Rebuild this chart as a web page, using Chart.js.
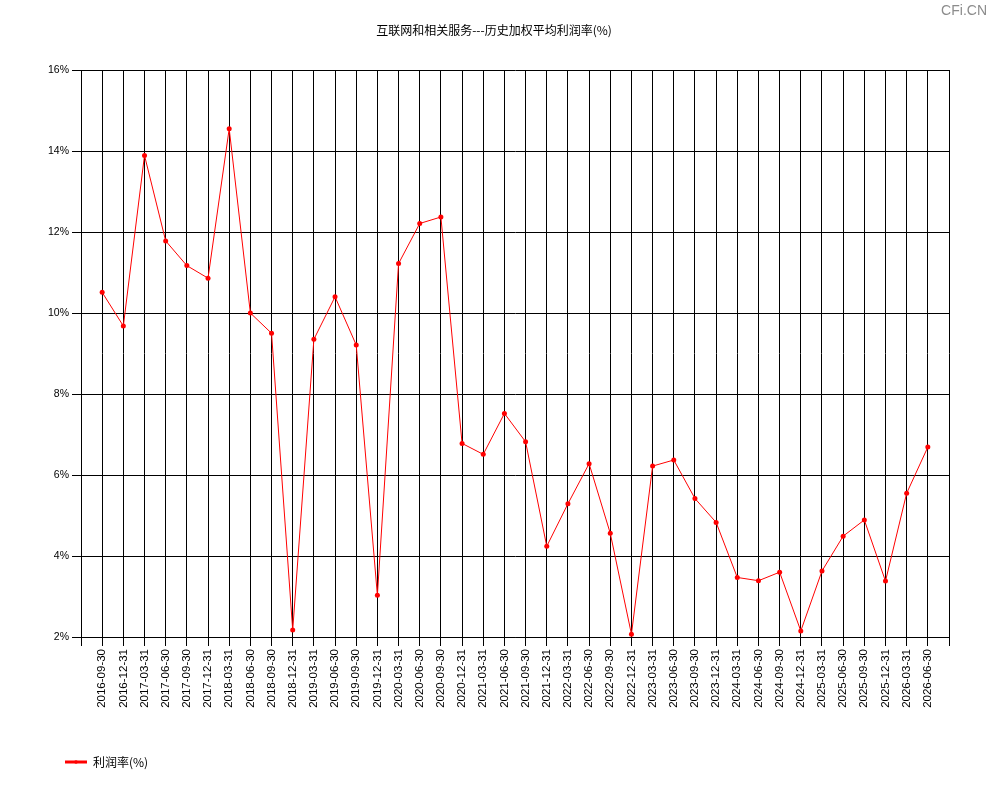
<!DOCTYPE html>
<html lang="zh-CN">
<head>
<meta charset="utf-8">
<title>互联网和相关服务---历史加权平均利润率(%)</title>
<script src="https://cdn.jsdelivr.net/npm/chart.js@4.4.1/dist/chart.umd.min.js"></script>
<style>
    html, body { margin: 0; padding: 0; background: #fff; }
    #chartBox { width: 990px; height: 800px; }
</style>
</head>
<body>
<div id="chartBox"><canvas id="profitChart" width="990" height="800"></canvas></div>
<script>
// quarter-end dates on the x axis
const quarters = [
    '2016-09-30', '2016-12-31', '2017-03-31', '2017-06-30', '2017-09-30', '2017-12-31',
    '2018-03-31', '2018-06-30', '2018-09-30', '2018-12-31', '2019-03-31', '2019-06-30',
    '2019-09-30', '2019-12-31', '2020-03-31', '2020-06-30', '2020-09-30', '2020-12-31',
    '2021-03-31', '2021-06-30', '2021-09-30', '2021-12-31', '2022-03-31', '2022-06-30',
    '2022-09-30', '2022-12-31', '2023-03-31', '2023-06-30', '2023-09-30', '2023-12-31',
    '2024-03-31', '2024-06-30', '2024-09-30', '2024-12-31', '2025-03-31', '2025-06-30',
    '2025-09-30', '2025-12-31', '2026-03-31', '2026-06-30'
];

// weighted average profit rate, %
const profitRate = [
    10.51, 9.68, 13.89, 11.78, 11.17, 10.86,
    14.55, 10.00, 9.50, 2.17, 9.35, 10.40,
    9.21, 3.03, 11.22, 12.21, 12.37, 6.78,
    6.51, 7.52, 6.82, 4.24, 5.29, 6.28,
    4.56, 2.07, 6.22, 6.37, 5.42, 4.83,
    3.47, 3.39, 3.60, 2.15, 3.63, 4.49,
    4.89, 3.38, 5.55, 6.69
];

const yMin = 2;
const yMax = 16;
const yStep = 2;

const chartTitle = '互联网和相关服务---历史加权平均利润率(%)';
const seriesName = '利润率(%)';

const cjkFont = '"Noto Sans CJK SC", "Noto Sans", sans-serif';
const tickFont = '"Liberation Sans", Arial, sans-serif';

const legendLeft = 55;

// title centred on the whole canvas, legend a bit in from the left, CFi.CN mark in the corner
const extras = {
    id: 'extras',
    afterLayout(chart) {
        if (chart.legend) chart.legend.left = legendLeft;
        if (chart.titleBlock) {
            chart.titleBlock.left = 0;
            chart.titleBlock.right = 988;
        }
    },
    afterDraw(chart) {
        const ctx = chart.ctx;
        ctx.save();
        ctx.font = '14px ' + tickFont;
        ctx.fillStyle = '#8c8c8c';
        ctx.textAlign = 'right';
        ctx.textBaseline = 'top';
        ctx.fillText('CFi.CN', 987, 4);

        // small marker dot in the middle of the legend line
        const lg = chart.legend;
        if (lg) {
            const pad = lg.options.labels.padding;
            ctx.fillStyle = '#ff0000';
            ctx.beginPath();
            ctx.arc(lg.left + pad + 11, lg.top + pad + 6, 1.8, 0, Math.PI * 2);
            ctx.fill();
        }
        ctx.restore();
    }
};

const points = profitRate.map((v, i) => ({ x: i, y: v }));

new Chart(document.getElementById('profitChart'), {
    type: 'line',
    data: {
        datasets: [{
            label: seriesName,
            data: points,
            borderColor: '#ff0000',
            backgroundColor: '#ff0000',
            borderWidth: 1,
            pointRadius: 2.5,
            pointBackgroundColor: '#ff0000',
            pointBorderWidth: 0,
            tension: 0
        }]
    },
    options: {
        responsive: false,
        devicePixelRatio: 1,
        animation: false,
        layout: { padding: { left: 0, right: 41, top: 0, bottom: 22 } },
        plugins: {
            title: {
                display: true,
                text: chartTitle,
                color: '#000',
                font: { family: cjkFont, size: 12, weight: 'normal' },
                padding: { top: 23, bottom: 32.6 }
            },
            legend: {
                position: 'bottom',
                align: 'start',
                labels: {
                    usePointStyle: true,
                    pointStyle: 'line',
                    pointStyleWidth: 22,
                    color: '#000',
                    font: { family: cjkFont, size: 12 },
                    generateLabels(chart) {
                        const items = Chart.defaults.plugins.legend.labels.generateLabels(chart);
                        items.forEach(item => {
                            item.lineWidth = 3;
                            item.strokeStyle = '#ff0000';
                        });
                        return items;
                    }
                }
            },
            tooltip: { enabled: false }
        },
        scales: {
            x: {
                type: 'linear',
                min: -1,
                max: quarters.length,
                afterBuildTicks(scale) {
                    const ticks = [];
                    for (let i = -1; i <= quarters.length; i++) ticks.push({ value: i });
                    scale.ticks = ticks;
                },
                afterFit(scale) { scale.height = 109; },
                grid: { color: '#000', lineWidth: 1, tickLength: 9 },
                border: { color: '#000' },
                ticks: {
                    autoSkip: false,
                    minRotation: 90,
                    maxRotation: 90,
                    padding: 3,
                    color: '#000',
                    font: { family: tickFont, size: 11.5 },
                    callback: value => quarters[value] || ''
                }
            },
            y: {
                min: yMin,
                max: yMax,
                afterFit(scale) { scale.width = 81; },
                grid: { color: '#000', lineWidth: 1, tickLength: 9 },
                border: { color: '#000' },
                ticks: {
                    stepSize: yStep,
                    padding: 3,
                    color: '#000',
                    font: { family: tickFont, size: 10.5 },
                    callback: value => value + '%'
                }
            }
        }
    },
    plugins: [extras]
});
</script>
</body>
</html>
